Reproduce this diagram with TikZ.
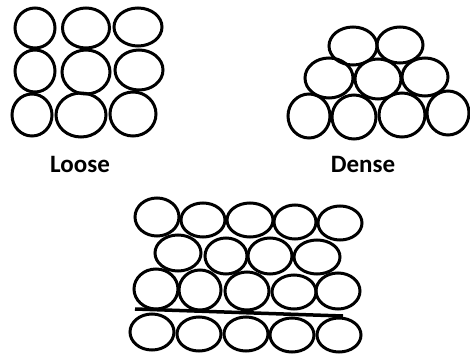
\documentclass[tikz,border=0pt]{standalone}
\usepackage{fontspec}
\setmainfont{Carlito}
\begin{document}
\begin{tikzpicture}[x=1pt,y=-1pt,
  grain/.style={draw=black,line width=3pt},
  lbl/.style={font=\fontsize{25}{29}\selectfont\bfseries,inner sep=0pt}]
\useasboundingbox[fill=white] (0,0) rectangle (470,355);
% Loose
\foreach \x/\y/\a/\b in {35/28/20/20, 86/28/23.5/20, 138/27/24/19,
  35/71/20/21, 86/72/24/22, 139/70/24/20,
  32/115/20/21, 81/115/25/22, 133/114/23/22}
  \draw[grain] (\x,\y) ellipse[x radius=\a, y radius=\b];
% Dense
\foreach \x/\y/\a/\b in {353/46/24/19, 400/45/23/18,
  329/78/24/20, 378/79/23/20, 425/77/23/19,
  309/116/21/22, 354/117/22/22, 402/115/23/22, 448/113/21/22}
  \draw[grain] (\x,\y) ellipse[x radius=\a, y radius=\b];
% Bottom
\foreach \x/\y/\a/\b in {157/217/22/19, 203/220/22/17, 250/220/23/17, 295/222/21/17, 340/223/22/17,
  178/253/23/18, 226/256/21/18, 270/256/22/18, 317/257/23/17,
  156/289/22/20, 200/290/21/20, 247/291/22/19, 294/292/22/17, 338/291/22/18,
  152/332/22/18, 199/334/22/17, 246/334/22/17, 292/335/22/17, 339/335/22/17}
  \draw[grain] (\x,\y) ellipse[x radius=\a, y radius=\b];
\coordinate (la) at (135,309);
\coordinate (lb) at (343,316);
\draw[line width=3.5pt] (la) -- (lb);
\node[lbl] (loose) at (80,164) {Loose};
\node[lbl] (dense) at (363,164) {Dense};
\end{tikzpicture}
\end{document}
